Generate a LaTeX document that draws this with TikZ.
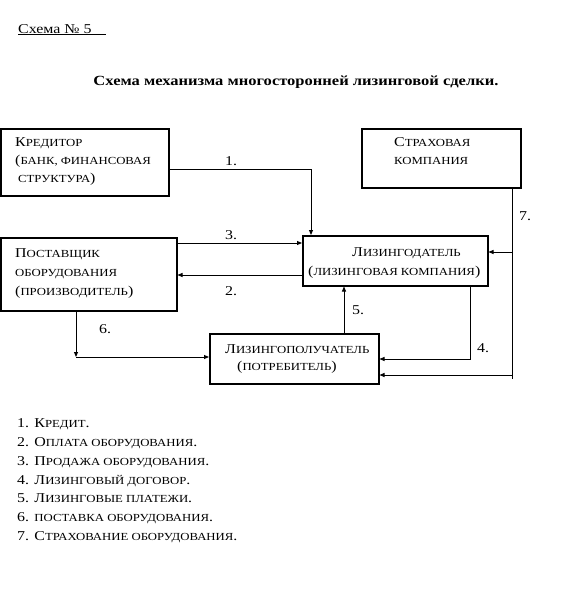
\documentclass[tikz,border=0pt]{standalone}
\usepackage{fontspec}
\setmainfont[FakeStretch=1.18]{Liberation Serif}
\usetikzlibrary{arrows.meta}
\newcommand\smc[1]{{\fontsize{10.8}{12}\selectfont #1}}
\begin{document}
\begin{tikzpicture}[x=1pt,y=-1pt,
  box/.style={draw,line width=1.5pt,anchor=north west,inner sep=0pt},
  conn/.style={line width=0.9pt},
  arr/.style={conn,-{Triangle[length=5pt,width=4pt]}},
  txt/.style={anchor=base west,inner sep=0pt,font=\fontsize{13.5}{16}\selectfont},
  lbl/.style={anchor=base west,inner sep=0pt,font=\fontsize{13.5}{16}\selectfont}]
\useasboundingbox (0,0) rectangle (577,595);
% header
\node[txt] (head) at (18,33) {\underline{Схема № 5\hspace{14pt}}};
\node[anchor=base,inner sep=0pt,font=\fontsize{14}{16}\bfseries] (title) at (296,85) {Схема механизма многосторонней лизинговой сделки.};
% boxes
\node[box,minimum width=168pt,minimum height=67pt] (K) at (0,128) {};
\node[box,minimum width=176pt,minimum height=73pt] (P) at (0,237) {};
\node[box,minimum width=185pt,minimum height=50pt] (L) at (302,235) {};
\node[box,minimum width=159pt,minimum height=59pt] (S) at (361,128) {};
\node[box,minimum width=169pt,minimum height=50pt] (R) at (209,333) {};
% box texts
\node[txt] (k1) at (15,146) {К\smc{РЕДИТОР}};
\node[txt] (k2) at (15,164) {(\smc{БАНК, ФИНАНСОВАЯ}};
\node[txt] (k3) at (18,182.5) {\smc{СТРУКТУРА})};
\node[txt] (p1) at (15,257) {П\smc{ОСТАВЩИК}};
\node[txt] (p2) at (15,276) {\smc{ОБОРУДОВАНИЯ}};
\node[txt] (p3) at (15,295) {(\smc{ПРОИЗВОДИТЕЛЬ})};
\node[txt] (s1) at (394,146) {С\smc{ТРАХОВАЯ}};
\node[txt] (s2) at (394,164) {\smc{КОМПАНИЯ}};
\node[txt] (l1) at (352,256) {Л\smc{ИЗИНГОДАТЕЛЬ}};
\node[txt] (l2) at (308,275) {(\smc{ЛИЗИНГОВАЯ КОМПАНИЯ})};
\node[txt] (r1) at (225,353) {Л\smc{ИЗИНГОПОЛУЧАТЕЛЬ}};
\node[txt] (r2) at (237,370) {(\smc{ПОТРЕБИТЕЛЬ})};
% helper coordinates
\coordinate (c1) at (311,169);
\coordinate (y3) at (0,243);
\coordinate (y2) at (0,275);
\coordinate (c7) at (512,187);
\coordinate (e7) at (512,379);
\coordinate (y7a) at (0,252);
\coordinate (y7b) at (0,375);
\coordinate (c4) at (470,359);
\coordinate (x5) at (344,0);
\coordinate (c6) at (76,357);
% connectors
\draw[arr] (K.east |- c1) -- (c1) -- (c1 |- L.north);
\draw[arr] (P.east |- y3) -- (L.west |- y3);
\draw[arr] (L.west |- y2) -- (P.east |- y2);
\draw[conn] (c7) -- (e7);
\draw[arr] (c7 |- y7a) -- (L.east |- y7a);
\draw[arr] (c7 |- y7b) -- (R.east |- y7b);
\draw[arr] (c4 |- L.south) -- (c4) -- (R.east |- c4);
\draw[arr] (x5 |- R.north) -- (x5 |- L.south);
\draw[arr] (c6 |- P.south) -- (c6);
\draw[arr] (c6) -- (R.west |- c6);
% labels
\node[lbl] (n1) at (225,165) {1.};
\node[lbl] (n3) at (225,239) {3.};
\node[lbl] (n2) at (225,295) {2.};
\node[lbl] (n7) at (519,220) {7.};
\node[lbl] (n5) at (352,314) {5.};
\node[lbl] (n4) at (477,352) {4.};
\node[lbl] (n6) at (99,333) {6.};
% legend
\node[txt] (g1) at (17,427) {1. К\smc{РЕДИТ}.};
\node[txt] (g2) at (17,446) {2. О\smc{ПЛАТА ОБОРУДОВАНИЯ}.};
\node[txt] (g3) at (17,465) {3. П\smc{РОДАЖА ОБОРУДОВАНИЯ}.};
\node[txt] (g4) at (17,484) {4. Л\smc{ИЗИНГОВЫЙ ДОГОВОР}.};
\node[txt] (g5) at (17,502.5) {5. Л\smc{ИЗИНГОВЫЕ ПЛАТЕЖИ}.};
\node[txt] (g6) at (17,521.5) {6. \smc{ПОСТАВКА ОБОРУДОВАНИЯ}.};
\node[txt] (g7) at (17,540) {7. С\smc{ТРАХОВАНИЕ ОБОРУДОВАНИЯ}.};
\end{tikzpicture}
\end{document}
